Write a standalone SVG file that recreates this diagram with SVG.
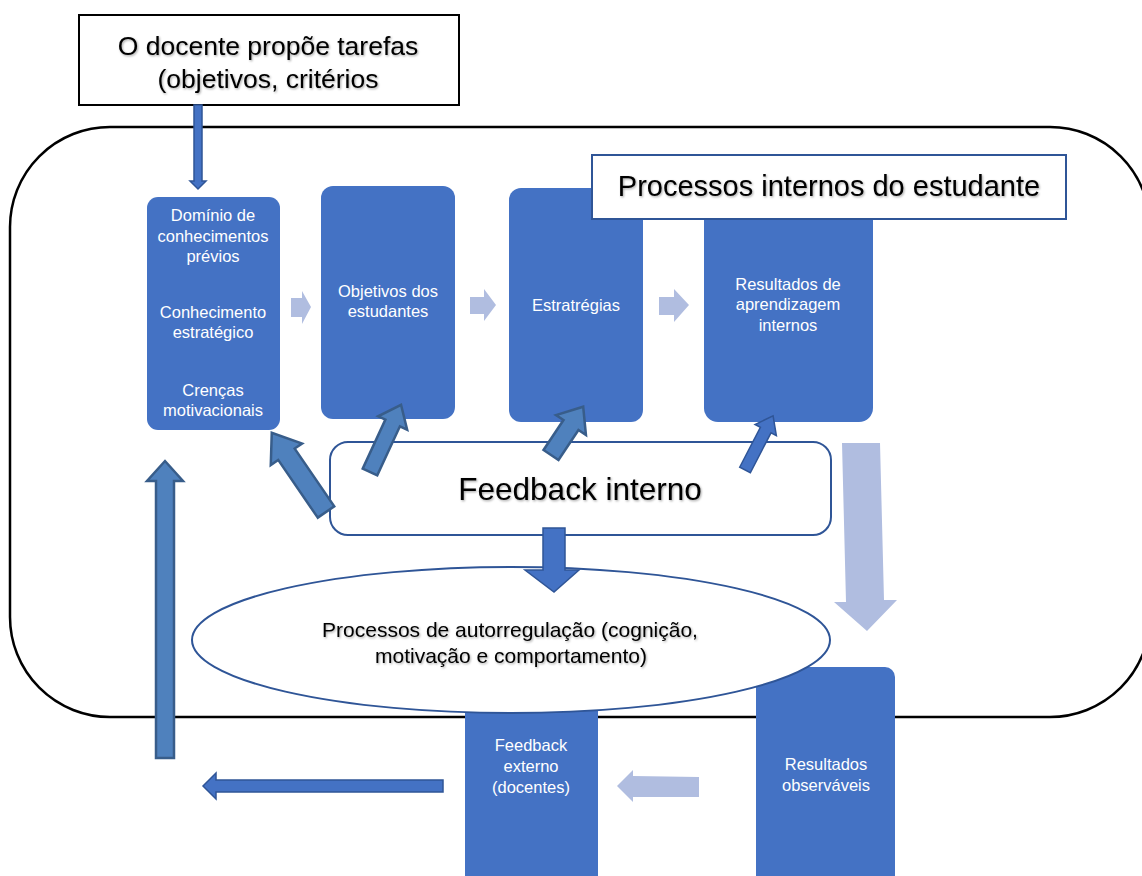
<svg xmlns="http://www.w3.org/2000/svg" width="1142" height="876" viewBox="0 0 1142 876">
<defs>
<filter id="sh" x="-5%" y="-20%" width="110%" height="140%">
<feDropShadow dx="1" dy="1.2" stdDeviation="0.8" flood-color="#000" flood-opacity="0.35"/>
</filter>
</defs>
<style>
.box{fill:#4472C4;}
.bt{font-family:"Liberation Sans",Arial,sans-serif;font-size:16.5px;fill:#fff;text-anchor:middle;}
.blk{font-family:"Liberation Sans",Arial,sans-serif;fill:#000;text-anchor:middle;}
.light{fill:#B0BDE0;}
.dk{fill:#4F81BD;stroke:#385D8A;stroke-width:2.5;stroke-linejoin:miter;}
.md{fill:#4472C4;stroke:#2F5597;stroke-width:1.5;}
</style>
<rect width="1142" height="876" fill="#fff"/>
<g id="frame">
<rect x="10" y="127" width="1140" height="590" rx="100" ry="100" fill="none" stroke="#000" stroke-width="2.5"/>
</g>
<g id="top-box">
<rect x="79" y="15" width="380" height="90" fill="#fff" stroke="#000" stroke-width="2"/>
<text class="blk" x="268" y="55" font-size="26.5" filter="url(#sh)">O docente propõe tarefas</text>
<text class="blk" x="268" y="88" font-size="26.5" filter="url(#sh)">(objetivos, critérios</text>
</g>
<g id="n-dominio">
<rect class="box" x="147" y="197" width="133" height="233" rx="11"/>
<text class="bt" x="213" y="221">Domínio de</text>
<text class="bt" x="213" y="242">conhecimentos</text>
<text class="bt" x="213" y="262">prévios</text>
<text class="bt" x="213" y="318">Conhecimento</text>
<text class="bt" x="213" y="338">estratégico</text>
<text class="bt" x="213" y="396">Crenças</text>
<text class="bt" x="213" y="416">motivacionais</text>
</g>
<g id="n-objetivos">
<rect class="box" x="321" y="186" width="134" height="233" rx="12"/>
<text class="bt" x="388" y="297">Objetivos dos</text>
<text class="bt" x="388" y="317">estudantes</text>
</g>
<g id="n-estrategias">
<rect class="box" x="509" y="188" width="134" height="234" rx="12"/>
<text class="bt" x="576" y="311">Estratrégias</text>
</g>
<g id="n-resultados-int">
<rect class="box" x="704" y="188" width="169" height="234" rx="14"/>
<text class="bt" x="788" y="290">Resultados de</text>
<text class="bt" x="788" y="310">aprendizagem</text>
<text class="bt" x="788" y="331">internos</text>
</g>
<g id="n-processos-internos">
<rect x="592" y="155" width="474" height="64" fill="#fff" stroke="#2F5597" stroke-width="2"/>
<text class="blk" x="829" y="196" font-size="29" filter="url(#sh)">Processos internos do estudante</text>
</g>
<g id="n-feedback-externo">
<rect class="box" x="465" y="700" width="133" height="200" rx="10"/>
<text class="bt" x="531" y="751">Feedback</text>
<text class="bt" x="531" y="772">externo</text>
<text class="bt" x="531" y="793">(docentes)</text>
</g>
<g id="n-resultados-obs">
<rect class="box" x="756" y="667" width="139" height="230" rx="10"/>
<text class="bt" x="826" y="770">Resultados</text>
<text class="bt" x="826" y="791">observáveis</text>
</g>
<g id="n-autorregulacao">
<ellipse cx="511" cy="640" rx="319" ry="73" fill="#fff" stroke="#2F5597" stroke-width="2"/>
<text class="blk" x="510" y="637" font-size="21" filter="url(#sh)">Processos de autorregulação (cognição,</text>
<text class="blk" x="511" y="663" font-size="21" filter="url(#sh)">motivação e comportamento)</text>
</g>
<g id="n-feedback-interno">
<rect x="330" y="442" width="501" height="93" rx="18" fill="#fff" stroke="#2F5597" stroke-width="2"/>
<text class="blk" x="580" y="500" font-size="31.5" filter="url(#sh)">Feedback interno</text>
</g>
<g id="connectors">
<path class="md" d="M194,105 L202,105 L202,181 L206,181 L198,189 L190,181 L194,181 Z"/>
<path class="light" d="M291,298 L302,298 L302,291 L311,307 L302,324 L302,317 L291,317 Z"/>
<path class="light" d="M470,297 L484,297 L484,289 L496,305 L484,321 L484,314 L470,314 Z"/>
<path class="light" d="M659,297 L674,297 L674,289 L689,305 L674,322 L674,315 L659,315 Z"/>
<path class="light" d="M842,443 L880,443 L884,600 L897,600 L867,631 L834,602 L846,602 Z"/>
<path class="light" d="M699,777 L633,776 L633,770 L617,786 L633,802 L633,797 L699,797 Z"/>
<path class="md" d="M443,780 L216,780 L216,773 L203,786 L216,799 L216,792 L443,792 Z"/>
<path class="md" d="M543,528 L565,528 L565,570 L579,570 L554,592 L525,570 L543,570 Z"/>
<path class="dk" d="M156,758 L156,481 L147,481 L165,461 L183,481 L174,481 L174,758 Z"/>
<path class="dk" transform="translate(326,512) rotate(-34.4)" d="M-10,0 L-10,-70 L-19,-70 L0,-96 L19,-70 L10,-70 L10,0 Z"/>
<path class="dk" transform="translate(370,472) rotate(24.8)" d="M-8,0 L-8,-54 L-16,-54 L0,-74 L16,-54 L8,-54 L8,0 Z"/>
<path class="dk" transform="translate(551,455) rotate(33.7)" d="M-9,0 L-9,-36 L-18,-36 L0,-58 L18,-36 L9,-36 L9,0 Z"/>
<path class="md" transform="translate(745,470) rotate(27.4)" style="stroke-width:1.5" d="M-6,0 L-6,-45 L-12,-45 L0,-61 L12,-45 L6,-45 L6,0 Z"/>
</g>
</svg>
